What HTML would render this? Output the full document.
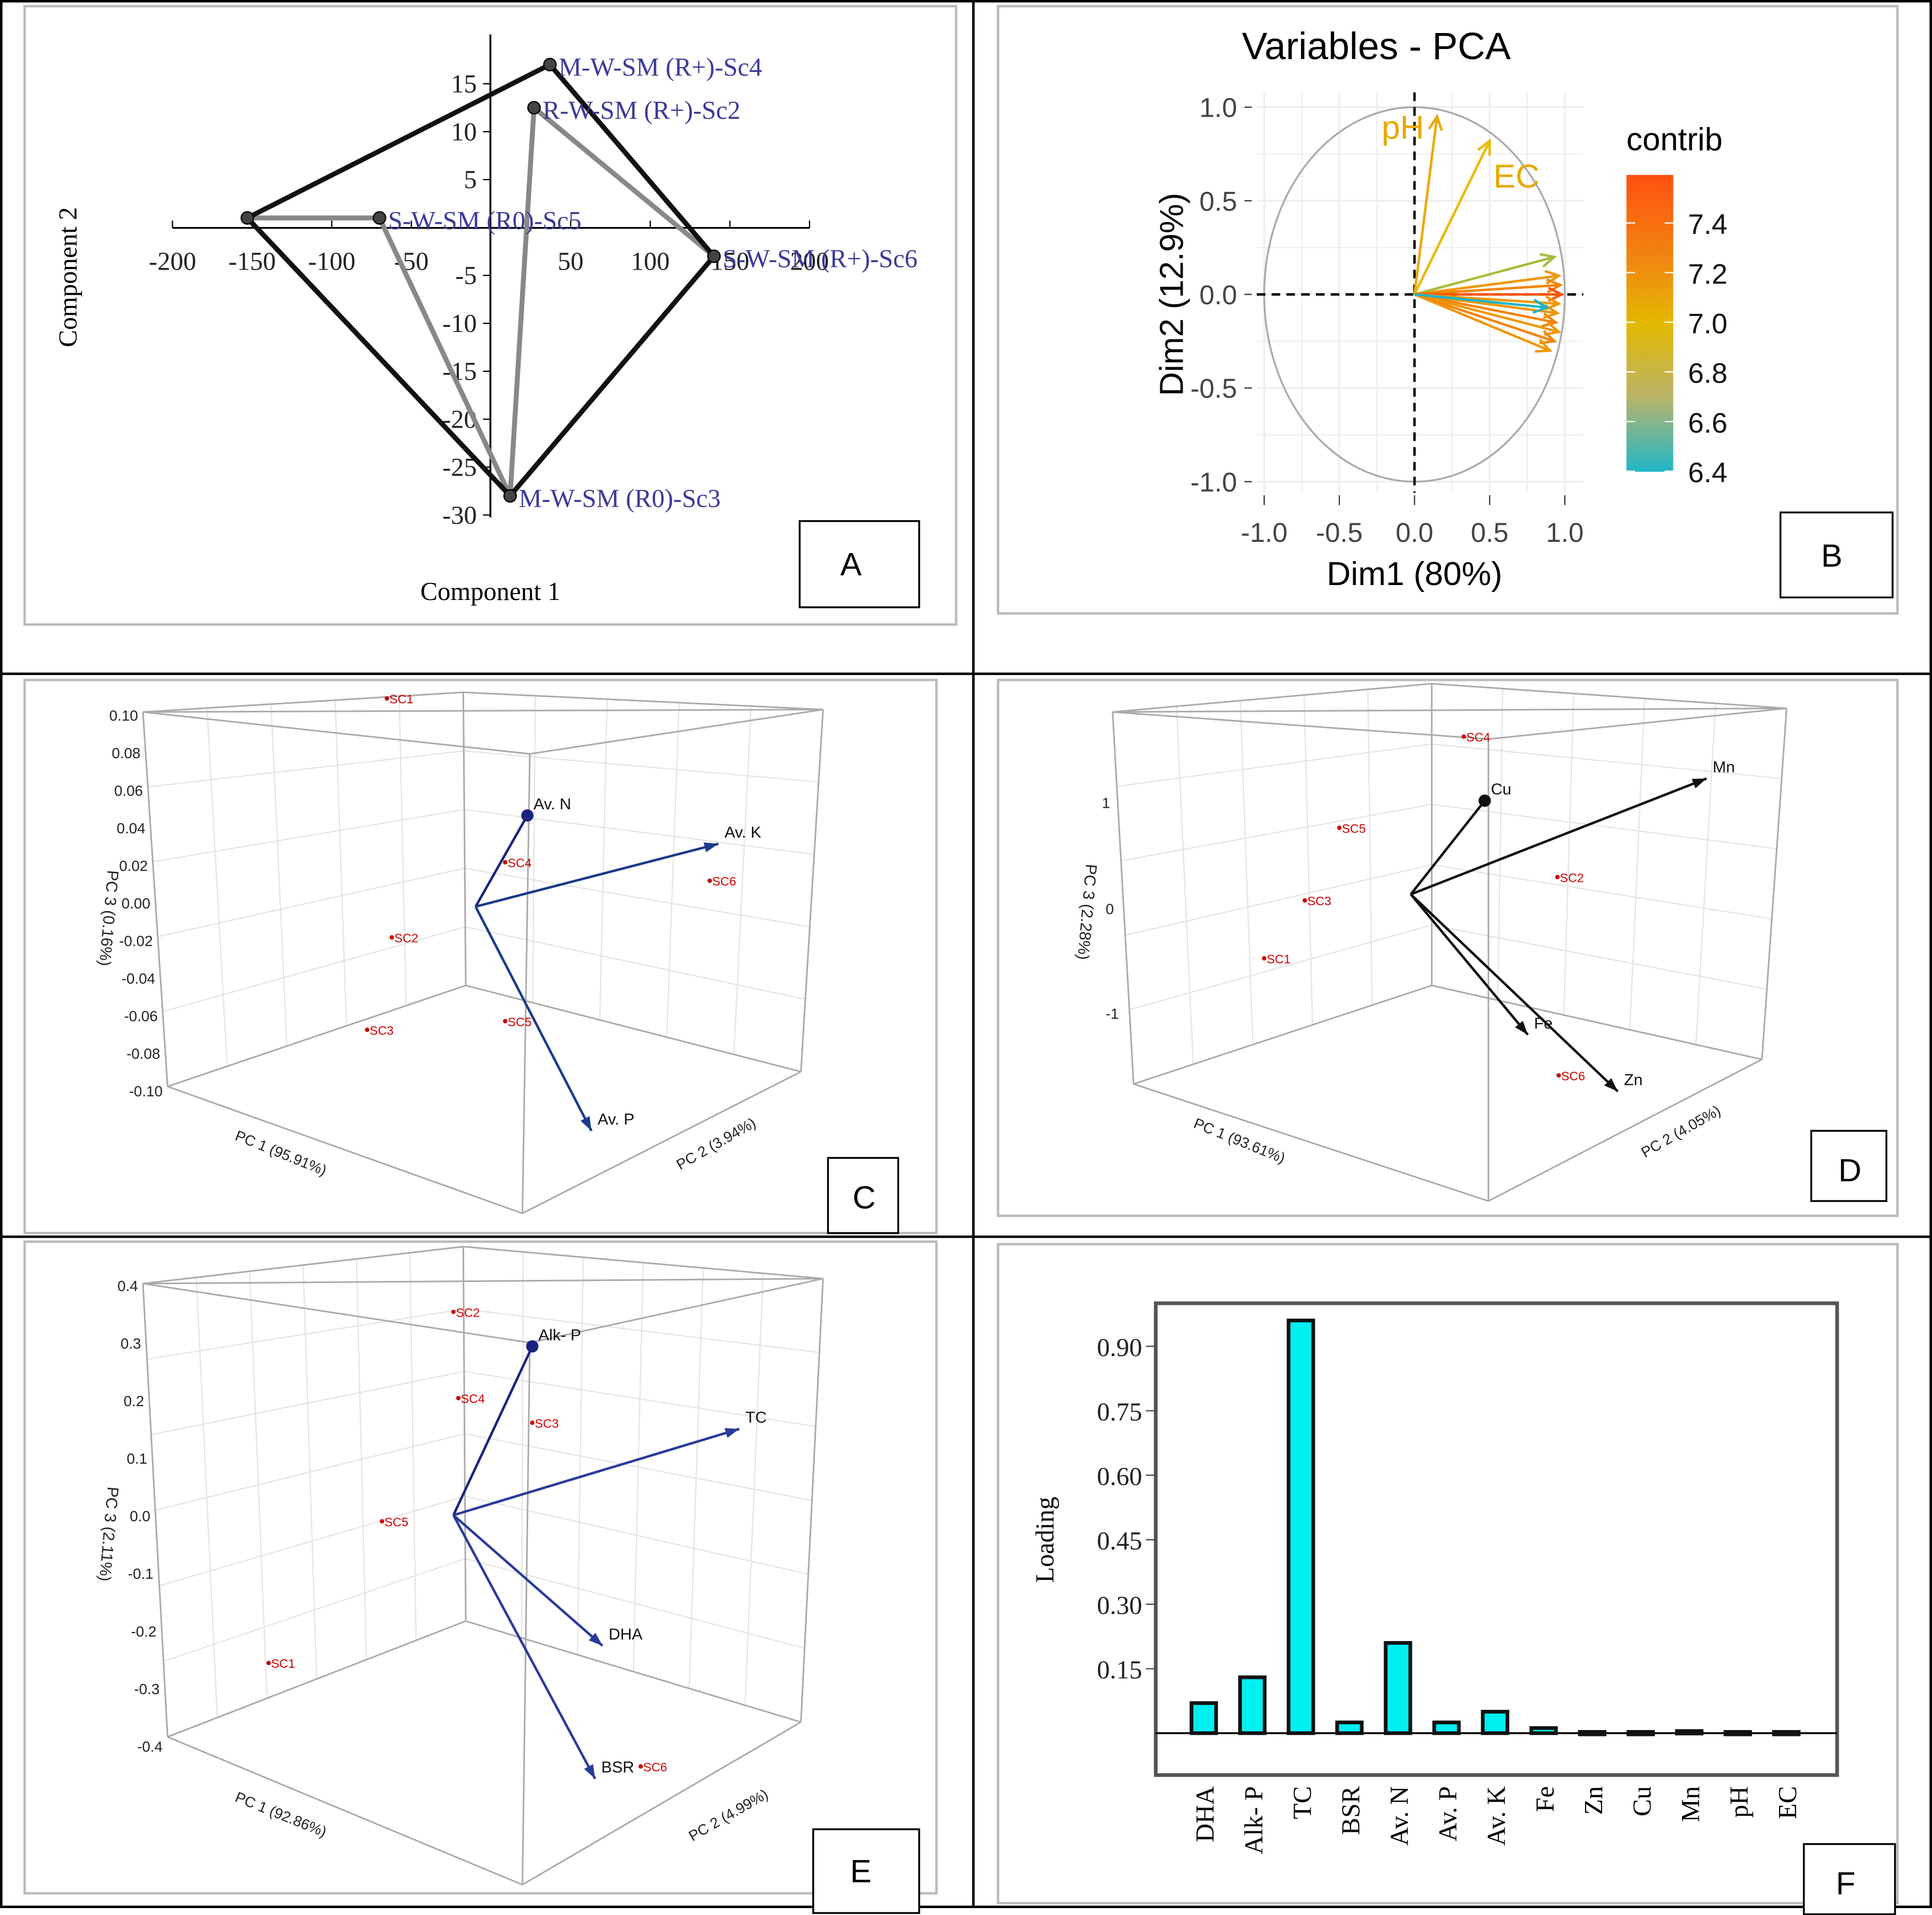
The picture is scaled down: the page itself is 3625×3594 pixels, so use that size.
<!DOCTYPE html>
<html><head><meta charset="utf-8"><style>
html,body{margin:0;padding:0;background:#fff}
svg{display:block}
text{font-family:"Liberation Sans",sans-serif}
.serif{font-family:"Liberation Serif",serif}
</style></head><body>
<svg id="root" width="3625" height="3594" viewBox="0 0 1568 1554.6" preserveAspectRatio="none" xmlns="http://www.w3.org/2000/svg">
<rect x="0" y="0" width="1568" height="1555" fill="#fff"/>
<g stroke="#000" stroke-width="2" fill="none">
<rect x="1" y="1" width="1566" height="1547"/>
<line x1="790" y1="0" x2="790" y2="1548"/>
<line x1="0" y1="547" x2="1568" y2="547"/>
<line x1="0" y1="1004" x2="1568" y2="1004"/>
</g>
<g stroke="#bbb" stroke-width="2" fill="none">
<rect x="20" y="5" width="756" height="502"/>
<rect x="810" y="5" width="730" height="493"/>
<rect x="20" y="552" width="740" height="449"/>
<rect x="810" y="552" width="730" height="435"/>
<rect x="20" y="1008" width="740" height="529"/>
<rect x="810" y="1010" width="730" height="535"/>
</g>
<g id="pA"></g>
<g id="pB"></g>
<g id="pC"></g>
<g id="pD"></g>
<g id="pE"></g>
<g id="pF"></g>
<g font-size="26">
<rect x="649" y="423" width="97" height="70" fill="#fff" stroke="#000" stroke-width="1.5"/><text x="682" y="467">A</text>
<rect x="1445" y="416" width="91" height="69" fill="#fff" stroke="#000" stroke-width="1.5"/><text x="1478" y="460">B</text>
<rect x="672" y="940" width="57" height="61" fill="#fff" stroke="#000" stroke-width="1.5"/><text x="692" y="981">C</text>
<rect x="1470" y="918" width="61" height="57" fill="#fff" stroke="#000" stroke-width="1.5"/><text x="1492" y="959">D</text>
<rect x="660" y="1485" width="86" height="68" fill="#fff" stroke="#000" stroke-width="1.5"/><text x="690" y="1528">E</text>
<rect x="1464" y="1497" width="74" height="57" fill="#fff" stroke="#000" stroke-width="1.5"/><text x="1490" y="1538">F</text>
</g>
</svg>
<script>
const NS="http://www.w3.org/2000/svg";
function mk(p,t,a,txt){const e=document.createElementNS(NS,t);for(const k in a)e.setAttribute(k,a[k]);if(txt!==undefined)e.textContent=txt;p.appendChild(e);return e;}

// ---------- Panel A data ----------
const aNames=["Sc1","R-W-SM (R+)-Sc2","M-W-SM (R0)-Sc3","M-W-SM (R+)-Sc4","S-W-SM (R0)-Sc5","S-W-SM (R+)-Sc6"];
const aX=[-153,27,12,37,-70,140];
const aY=[1,12.5,-28,17,1,-3];
const aXTicks=[-200,-150,-100,-50,50,100,150,200];
const aYTicks=[15,10,5,-5,-10,-15,-20,-25,-30];
const aBlack=[0,3,5,2,0];
const aGray=[0,4,2,1,5];

// ---------- Panel B data ----------
const bX=[0.15,0.5,0.93,0.96,0.97,0.98,0.96,0.95,0.94,0.96,0.93,0.9,0.88];
const bY=[0.95,0.82,0.2,0.1,0.05,0.0,-0.05,-0.1,-0.15,-0.2,-0.25,-0.3,-0.07];
const bC=[7.1,7.0,6.8,7.2,7.3,7.5,7.2,7.2,7.3,7.2,7.3,7.2,6.4];
const bLab=["pH","EC"];
const bTicks=[-1.0,-0.5,0.0,0.5,1.0];
const bLegTicks=[7.4,7.2,7.0,6.8,6.6,6.4];

// ---------- Panel F data ----------
const fCats=["DHA","Alk- P","TC","BSR","Av. N","Av. P","Av. K","Fe","Zn","Cu","Mn","pH","EC"];
const fVals=[0.07,0.13,0.96,0.025,0.21,0.025,0.05,0.012,0.003,0.003,0.005,0.003,0.003];
const fTicks=[0.15,0.30,0.45,0.60,0.75,0.90];

// ===== Panel A =====
(function(){
const g=document.getElementById('pA');
const sx=v=>398.5+v*1.2925, sy=v=>184.7-v*7.78;
mk(g,'line',{x1:140,y1:185,x2:657,y2:185,stroke:'#000','stroke-width':1.5});
mk(g,'line',{x1:398,y1:28,x2:398,y2:420,stroke:'#000','stroke-width':1.5});
aXTicks.forEach(t=>{const x=sx(t);mk(g,'line',{x1:x,y1:185,x2:x,y2:179,stroke:'#000'});
 const e=mk(g,'text',{x:x,y:219,'font-size':21,'text-anchor':'middle',class:'serif',fill:'#222'},t);});
aYTicks.forEach(t=>{const y=sy(t);mk(g,'line',{x1:398,y1:y,x2:392,y2:y,stroke:'#000'});
 const e=mk(g,'text',{x:387,y:y+7,'font-size':21,'text-anchor':'end',class:'serif',fill:'#222'},t);});
let e=mk(g,'text',{x:398,y:487,'font-size':21,'text-anchor':'middle',class:'serif'},'Component 1');
e=mk(g,'text',{x:62,y:225,'font-size':21,'text-anchor':'middle',class:'serif',transform:'rotate(-90 62 225)'},'Component 2');
mk(g,'polyline',{points:aGray.map(i=>sx(aX[i])+','+sy(aY[i])).join(' '),fill:'none',stroke:'#888','stroke-width':4});
mk(g,'polyline',{points:aBlack.map(i=>sx(aX[i])+','+sy(aY[i])).join(' '),fill:'none',stroke:'#111','stroke-width':4});
aX.forEach((v,i)=>{const c=mk(g,'circle',{cx:sx(v),cy:sy(aY[i]),r:5,fill:'#444',stroke:'#000'});
 if(i>0){const t=mk(g,'text',{x:sx(v)+7,y:sy(aY[i])+9,'font-size':21,class:'serif',fill:'#3a3a9a'},aNames[i]);}});
})();

// ===== Panel B =====
(function(){
const g=document.getElementById('pB');
const sx=v=>1148+v*122, sy=v=>239-v*152;
for(let v=-1;v<=1.001;v+=0.25){mk(g,'line',{x1:sx(v),y1:75,x2:sx(v),y2:400,stroke:'#eee','stroke-width':Math.abs(v*2%1)<0.01?1.5:1});mk(g,'line',{x1:1020,y1:sy(v),x2:1285,y2:sy(v),stroke:'#eee','stroke-width':Math.abs(v*2%1)<0.01?1.5:1});}
mk(g,'ellipse',{cx:sx(0),cy:sy(0),rx:122,ry:152,fill:'none',stroke:'#aaa','stroke-width':1.5});
mk(g,'line',{x1:1020,y1:sy(0),x2:1285,y2:sy(0),stroke:'#000','stroke-width':2,'stroke-dasharray':'7,5'});
mk(g,'line',{x1:sx(0),y1:75,x2:sx(0),y2:400,stroke:'#000','stroke-width':2,'stroke-dasharray':'7,5'});
bTicks.forEach(t=>{const x=sx(t),y=sy(t);
 mk(g,'line',{x1:x,y1:402,x2:x,y2:410,stroke:'#333'});mk(g,'line',{x1:1010,y1:y,x2:1016,y2:y,stroke:'#333'});
 let e=mk(g,'text',{x:x,y:440,'font-size':22,'text-anchor':'middle',fill:'#444'},t.toFixed(1));
 e=mk(g,'text',{x:1004,y:y+8,'font-size':22,'text-anchor':'end',fill:'#444'},t.toFixed(1));});
let e=mk(g,'text',{x:1117,y:48,'font-size':31,'text-anchor':'middle'},'Variables - PCA');
e=mk(g,'text',{x:1148,y:475,'font-size':27,'text-anchor':'middle'},'Dim1 (80%)');
e=mk(g,'text',{x:960,y:239,'font-size':27,'text-anchor':'middle',transform:'rotate(-90 960 239)'},'Dim2 (12.9%)');
function col(c){const t=Math.max(0,Math.min(1,(c-6.4)/1.15));const stops=[[0,[30,180,200]],[0.5,[230,190,0]],[0.75,[240,140,10]],[1,[255,75,10]]];
 for(let i=1;i<stops.length;i++){if(t<=stops[i][0]){const a=stops[i-1],b=stops[i],f=(t-a[0])/(b[0]-a[0]);return 'rgb('+a[1].map((v,k)=>Math.round(v+(b[1][k]-v)*f)).join(',')+')';}}return 'rgb(255,75,10)';}
bX.forEach((v,i)=>{const x2=sx(v),y2=sy(bY[i]),c=col(bC[i]);const ang=Math.atan2(y2-239,x2-1148);
 const l=mk(g,'line',{x1:1148,y1:239,x2:x2,y2:y2,stroke:c,'stroke-width':2});
 const h=12;mk(g,'polyline',{points:(x2-h*Math.cos(ang-0.45))+','+(y2-h*Math.sin(ang-0.45))+' '+x2+','+y2+' '+(x2-h*Math.cos(ang+0.45))+','+(y2-h*Math.sin(ang+0.45)),fill:'none',stroke:c,'stroke-width':2});
 if(i<2){const t=mk(g,'text',{x:i==0?x2-45:x2+3,y:i==0?y2+18:y2+38,'font-size':27,fill:'#e8a800'},bLab[i]);}});
const defs=mk(g,'defs',{});const lg=mk(defs,'linearGradient',{id:'cb',x1:0,y1:0,x2:0,y2:1});
[[0,'#ff5010'],[0.3,'#f08a10'],[0.5,'#e3b800'],[0.75,'#b9b46a'],[1,'#20b6c8']].forEach(s=>mk(lg,'stop',{offset:s[0],'stop-color':s[1]}));
e=mk(g,'rect',{x:1320,y:142,width:38,height:241,fill:'url(#cb)'});
e=mk(g,'text',{x:1320,y:122,'font-size':26},'contrib');
bLegTicks.forEach(t=>{const y=383-(t-6.4)/1.15*241*1.005+0;const yy=181+(7.4-t)/0.2*40.3;
 mk(g,'line',{x1:1320,y1:yy,x2:1327,y2:yy,stroke:'#fff'});mk(g,'line',{x1:1351,y1:yy,x2:1358,y2:yy,stroke:'#fff'});
 const e=mk(g,'text',{x:1370,y:yy+9,'font-size':23,fill:'#111'},t.toFixed(1));});
})();

// ===== 3D panels =====
function panel3d(id,box,grid,origin,arrows,points,yticks,xlab,zlab,ylab){
const g=document.getElementById(id);
grid.forEach(l=>mk(g,'line',{x1:l[0],y1:l[1],x2:l[2],y2:l[3],stroke:'#e4e4e4','stroke-width':1}));
box.forEach(l=>mk(g,'line',{x1:l[0],y1:l[1],x2:l[2],y2:l[3],stroke:'#aaa','stroke-width':1.3}));
yticks.forEach(t=>{const e=mk(g,'text',{x:t[1]-4,y:t[2]+4,'font-size':12,'text-anchor':'end',fill:'#222'},t[0]);});
arrows.forEach(a=>{const c=a[4];const ang=Math.atan2(a[1]-origin[1],a[0]-origin[0]);
 const l=mk(g,'line',{x1:origin[0],y1:origin[1],x2:a[0],y2:a[1],stroke:c,'stroke-width':2});
 if(a[3]) mk(g,'circle',{cx:a[0],cy:a[1],r:5,fill:c});
 else{const h=12;mk(g,'polygon',{points:(a[0]-h*Math.cos(ang-0.35))+','+(a[1]-h*Math.sin(ang-0.35))+' '+a[0]+','+a[1]+' '+(a[0]-h*Math.cos(ang+0.35))+','+(a[1]-h*Math.sin(ang+0.35)),fill:c});}
 const t=mk(g,'text',{x:a[0]+5,y:a[1]-5,'font-size':13,fill:'#111'},a[2]);});
points.forEach(p=>{const c=mk(g,'circle',{cx:p[0],cy:p[1],r:1.8,fill:'#c00'});
 const t=mk(g,'text',{x:p[0]+2,y:p[1]+4,'font-size':10,fill:'#c00'},p[2]);});
let e=mk(g,'text',{x:xlab[0],y:xlab[1],'font-size':12,transform:'rotate(22 '+xlab[0]+' '+xlab[1]+')',fill:'#222'},xlab[2]);
e=mk(g,'text',{x:zlab[0],y:zlab[1],'font-size':12,transform:'rotate(-30 '+zlab[0]+' '+zlab[1]+')',fill:'#222'},zlab[2]);
e=mk(g,'text',{x:ylab[0],y:ylab[1],'font-size':13,'text-anchor':'middle',transform:'rotate(95 '+ylab[0]+' '+ylab[1]+')',fill:'#222'},ylab[2]);
}
function gridFor(tl,tb,tr,bl,bb,br,n){const L=[];for(let i=1;i<n;i++){const f=i/n;
 L.push([tl[0]+(tb[0]-tl[0])*f,tl[1]+(tb[1]-tl[1])*f,bl[0]+(bb[0]-bl[0])*f,bl[1]+(bb[1]-bl[1])*f]);
 L.push([tb[0]+(tr[0]-tb[0])*f,tb[1]+(tr[1]-tb[1])*f,bb[0]+(br[0]-bb[0])*f,bb[1]+(br[1]-bb[1])*f]);
 L.push([tl[0]+(bl[0]-tl[0])*f,tl[1]+(bl[1]-tl[1])*f,tb[0]+(bb[0]-tb[0])*f,tb[1]+(bb[1]-tb[1])*f]);
 L.push([tb[0]+(bb[0]-tb[0])*f,tb[1]+(bb[1]-tb[1])*f,tr[0]+(br[0]-tr[0])*f,tr[1]+(br[1]-tr[1])*f]);}return L;}
function boxLines(tl,tb,tr,tf,bl,bb,br,bf){return [[tl[0],tl[1],tr[0],tr[1]],[tl[0],tl[1],tf[0],tf[1]],[tf[0],tf[1],tr[0],tr[1]],[tl[0],tl[1],bl[0],bl[1]],[tf[0],tf[1],bf[0],bf[1]],[tr[0],tr[1],br[0],br[1]],[bl[0],bl[1],bf[0],bf[1]],[bf[0],bf[1],br[0],br[1]],[tb[0],tb[1],bb[0],bb[1]],[bb[0],bb[1],bl[0],bl[1]],[bb[0],bb[1],br[0],br[1]],[tl[0],tl[1],tb[0],tb[1]],[tb[0],tb[1],tr[0],tr[1]]];}

// C
(function(){const tl=[116,578],tb=[376,562],tr=[668,576],tf=[430,612],bl=[136,882],bb=[378,800],br=[650,870],bf=[424,985];
const yt=[];const lab=["0.10","0.08","0.06","0.04","0.02","0.00","-0.02","-0.04","-0.06","-0.08","-0.10"];lab.forEach((l,i)=>yt.push([l,116+i*2,581+i*30.5]));
panel3d('pC',boxLines(tl,tb,tr,tf,bl,bb,br,bf),gridFor(tl,tb,tr,bl,bb,br,5),[386,736],
[[428,662,'Av. N',1,'#1a237e'],[583,685,'Av. K',0,'#1a3a8a'],[480,918,'Av. P',0,'#1a3a8a']],
[[314,567,'SC1'],[410,700,'SC4'],[576,715,'SC6'],[318,761,'SC2'],[298,836,'SC3'],[410,829,'SC5']],yt,
[190,925,'PC 1 (95.91%)'],[552,950,'PC 2 (3.94%)'],[84,745,'PC 3 (0.16%)']);})();
// D
(function(){const tl=[903,578],tb=[1162,555],tr=[1450,575],tf=[1208,600],bl=[920,880],bb=[1162,800],br=[1430,860],bf=[1208,975];
panel3d('pD',boxLines(tl,tb,tr,tf,bl,bb,br,bf),gridFor(tl,tb,tr,bl,bb,br,5),[1145,726],
[[1205,650,'Cu',1,'#111'],[1385,632,'Mn',0,'#111'],[1240,840,'Fe',0,'#111'],[1313,886,'Zn',0,'#111']],
[[1188,598,'SC4'],[1087,672,'SC5'],[1059,731,'SC3'],[1264,712,'SC2'],[1026,778,'SC1'],[1265,873,'SC6']],
[['1',905,652],['0',908,738],['-1',912,823]],
[968,915,'PC 1 (93.61%)'],[1335,940,'PC 2 (4.05%)'],[878,740,'PC 3 (2.28%)']);})();
// E
(function(){const tl=[116,1042],tb=[376,1012],tr=[668,1038],tf=[430,1090],bl=[136,1410],bb=[378,1316],br=[650,1398],bf=[424,1530];
const yt=[];["0.4","0.3","0.2","0.1","0.0","-0.1","-0.2","-0.3","-0.4"].forEach((l,i)=>yt.push([l,116+i*2.5,1044+i*46.75]));
panel3d('pE',boxLines(tl,tb,tr,tf,bl,bb,br,bf),gridFor(tl,tb,tr,bl,bb,br,6),[368,1230],
[[432,1093,'Alk- P',1,'#1a237e'],[600,1160,'TC',0,'#2a3a9a'],[489,1336,'DHA',0,'#2a3a9a'],[483,1444,'BSR',0,'#2a3a9a']],
[[368,1065,'SC2'],[372,1135,'SC4'],[432,1155,'SC3'],[310,1235,'SC5'],[218,1350,'SC1'],[520,1434,'SC6']],yt,
[190,1462,'PC 1 (92.86%)'],[562,1495,'PC 2 (4.99%)'],[84,1245,'PC 3 (2.11%)']);})();

// ===== Panel F =====
(function(){
const g=document.getElementById('pF');
const y0=1407,k=349,x0=977,step=39.4,bw=20;
const sy=v=>y0-v*k, sx=i=>x0+i*step;
let e=mk(g,'rect',{x:938,y:1058,width:553,height:383,fill:'none',stroke:'#555','stroke-width':3});
mk(g,'line',{x1:938,y1:y0,x2:1491,y2:y0,stroke:'#000','stroke-width':1.5});
fTicks.forEach(t=>{const y=sy(t);mk(g,'line',{x1:930,y1:y,x2:938,y2:y,stroke:'#444'});
 const e=mk(g,'text',{x:927,y:y+8,'font-size':21,'text-anchor':'end',class:'serif',fill:'#222'},t.toFixed(2));});
e=mk(g,'text',{x:855,y:1250,'font-size':21,'text-anchor':'middle',class:'serif',transform:'rotate(-90 855 1250)'},'Loading');
fVals.forEach((v,i)=>{const x=sx(i)-bw/2,y=sy(v);
 const r=mk(g,'rect',{x:x,y:y,width:bw,height:Math.max(y0-y,2),fill:'#00f0f0',stroke:'#111','stroke-width':3});
 const t=mk(g,'text',{x:sx(i)+8,y:1450,'font-size':21,'text-anchor':'end',class:'serif',transform:'rotate(-90 '+(sx(i)+8)+' 1450)'},fCats[i]);});
})();
</script>
</body></html>
